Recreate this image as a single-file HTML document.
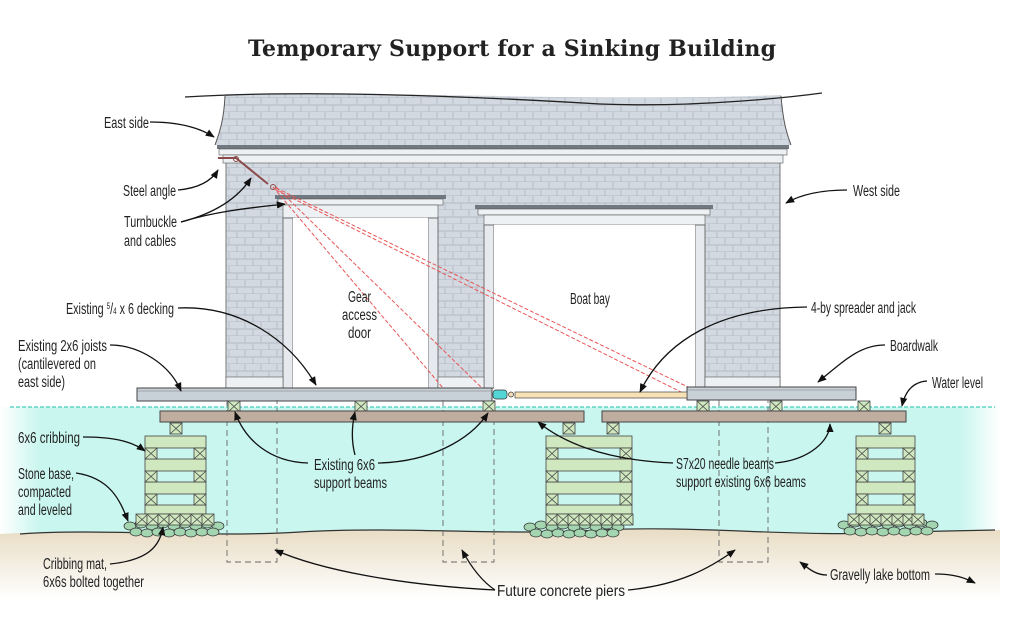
<!DOCTYPE html>
<html><head><meta charset="utf-8"><style>
html,body{margin:0;padding:0;background:#fff;}
svg{display:block;}
text{font-family:"Liberation Sans",sans-serif;fill:#222;}
</style></head><body>
<svg width="1024" height="629" viewBox="0 0 1024 629" xmlns="http://www.w3.org/2000/svg">
<defs>
<pattern id="sh" width="16" height="14" patternUnits="userSpaceOnUse">
<rect width="16" height="14" fill="#d3d9e1"/>
<path d="M0 7H16M0 14H16M5 0V7M13 7V14" stroke="#a9b2bd" stroke-width="0.7" fill="none"/>
</pattern>
<linearGradient id="gnd" x1="0" y1="0" x2="0" y2="1">
<stop offset="0" stop-color="#e8dcc4"/><stop offset="0.7" stop-color="#fff"/><stop offset="1" stop-color="#fff"/>
</linearGradient>
<linearGradient id="wl" x1="0" y1="0" x2="1" y2="0">
<stop offset="0" stop-color="#fff"/><stop offset="0.04" stop-color="#c9f6ee"/><stop offset="0.96" stop-color="#c9f6ee"/><stop offset="1" stop-color="#fff"/>
</linearGradient>
<marker id="ar" viewBox="0 0 10 10" refX="9" refY="5" markerWidth="7" markerHeight="7" orient="auto"><path d="M0 1L10 5L0 9Z" fill="#111"/></marker>
<g id="x"><rect width="12" height="11" fill="#cfe8c0" stroke="#444" stroke-width="0.8"/><path d="M0 0L12 11M12 0L0 11" stroke="#444" stroke-width="0.8"/></g>
<g id="st" fill="#a3d6b0" stroke="#333" stroke-width="0.7">
<ellipse cx="0" cy="8" rx="6" ry="4"/><ellipse cx="11" cy="6" rx="6" ry="4"/><ellipse cx="22" cy="8" rx="6" ry="4"/><ellipse cx="33" cy="6" rx="6" ry="4"/><ellipse cx="44" cy="8" rx="6" ry="4"/><ellipse cx="55" cy="6" rx="6" ry="4"/><ellipse cx="66" cy="8" rx="6" ry="4"/><ellipse cx="77" cy="6" rx="6" ry="4"/><ellipse cx="88" cy="8" rx="6" ry="4"/>
<ellipse cx="6" cy="14" rx="6" ry="4"/><ellipse cx="17" cy="15" rx="6" ry="4"/><ellipse cx="28" cy="14" rx="6" ry="4"/><ellipse cx="39" cy="15" rx="6" ry="4"/><ellipse cx="50" cy="14" rx="6" ry="4"/><ellipse cx="61" cy="15" rx="6" ry="4"/><ellipse cx="72" cy="14" rx="6" ry="4"/><ellipse cx="83" cy="14" rx="6" ry="4"/>
</g>
</defs>

<text x="512" y="56" text-anchor="middle" font-size="22" font-weight="bold" textLength="528" style="font-family:'DejaVu Serif',serif">Temporary Support for a Sinking Building</text>

<rect x="0" y="407" width="1000" height="140" fill="url(#wl)"/>
<path d="M0 534 C100 528 200 538 300 532 C400 526 500 536 600 530 C700 525 800 538 900 532 L1000 530 L1000 629 L0 629Z" fill="url(#gnd)"/>
<path d="M20 534 C100 528 200 538 300 532 C400 526 500 536 600 530 C700 525 800 538 900 532 L995 530" fill="none" stroke="#333" stroke-width="1.2"/>
<line x1="10" y1="407" x2="995" y2="407" stroke="#5fd5c5" stroke-width="1.5" stroke-dasharray="4 2"/>

<path d="M225 94 C450 92 600 102 781 95 L781 95 C783 120 786 132 791 145 L215 145 C220 132 224 118 225 94Z" fill="url(#sh)"/>
<path d="M185 97 C300 90 450 95 600 104 C700 108 800 96 822 93" fill="none" stroke="#222" stroke-width="1.3"/>
<path d="M225 96 C224 118 220 132 215 145 M781 96 C783 120 786 132 791 145" fill="none" stroke="#555"/>
<rect x="226" y="160" width="554" height="228" fill="url(#sh)"/>
<line x1="226" y1="160" x2="226" y2="388" stroke="#777"/>
<line x1="780" y1="160" x2="780" y2="388" stroke="#777"/>
<rect x="217" y="145" width="572" height="4" fill="#707880"/>
<rect x="219" y="149" width="568" height="6" fill="#eef1f4" stroke="#555" stroke-width="0.6"/>
<rect x="223" y="155" width="560" height="8" fill="#eef1f4" stroke="#555" stroke-width="0.6"/>
<rect x="275" y="195" width="171" height="4" fill="#707880"/>
<rect x="278" y="199" width="165" height="6" fill="#eef1f4" stroke="#555" stroke-width="0.6"/>
<rect x="283" y="205" width="155" height="13" fill="#eef1f4" stroke="#555" stroke-width="0.6"/>
<rect x="283" y="218" width="10" height="170" fill="#e6eaee" stroke="#555" stroke-width="0.8"/>
<rect x="428" y="218" width="10" height="170" fill="#e6eaee" stroke="#555" stroke-width="0.8"/>
<rect x="293" y="218" width="135" height="170" fill="#fff"/>
<rect x="475" y="205" width="238" height="4" fill="#707880"/>
<rect x="478" y="209" width="232" height="6" fill="#eef1f4" stroke="#555" stroke-width="0.6"/>
<rect x="484" y="215" width="221" height="10" fill="#eef1f4" stroke="#555" stroke-width="0.6"/>
<rect x="484" y="225" width="10" height="163" fill="#e6eaee" stroke="#555" stroke-width="0.8"/>
<rect x="695" y="225" width="10" height="163" fill="#e6eaee" stroke="#555" stroke-width="0.8"/>
<rect x="494" y="225" width="201" height="163" fill="#fff"/>
<rect x="226" y="377" width="57" height="11" fill="#eef1f4" stroke="#555" stroke-width="0.6"/>
<rect x="438" y="377" width="46" height="11" fill="#eef1f4" stroke="#555" stroke-width="0.6"/>
<rect x="705" y="377" width="75" height="11" fill="#eef1f4" stroke="#555" stroke-width="0.6"/>

<path d="M218 158 H236 L268 184" stroke="#8a4a4a" stroke-width="2" fill="none"/>
<circle cx="236" cy="159" r="2.5" fill="none" stroke="#8a4a4a"/>
<circle cx="273" cy="187" r="2.5" fill="none" stroke="#8a4a4a"/>
<g stroke="#e85555" stroke-width="1" stroke-dasharray="4 2" fill="none">
<line x1="273" y1="187" x2="443" y2="388"/><line x1="276" y1="187" x2="482" y2="388"/>
<line x1="276" y1="188" x2="690" y2="388"/><line x1="276" y1="190" x2="697" y2="400"/>
</g>

<rect x="137" y="388" width="355" height="13" fill="#c8d0d8" stroke="#444"/>
<line x1="137" y1="391" x2="492" y2="391" stroke="#777" stroke-width="0.6"/>
<rect x="687" y="387" width="169" height="13" fill="#c8d0d8" stroke="#444"/>
<line x1="687" y1="390" x2="856" y2="390" stroke="#777" stroke-width="0.6"/>
<rect x="493" y="390" width="14" height="9" rx="3" fill="#55d6d6" stroke="#333" stroke-width="0.7"/>
<circle cx="511" cy="394.5" r="2.5" fill="#f3e1b5" stroke="#333" stroke-width="0.7"/>
<rect x="515" y="392" width="172" height="6" fill="#f7e2b6" stroke="#444" stroke-width="0.7"/>

<g stroke="#666" stroke-dasharray="6 4" fill="none" stroke-width="0.9">
<path d="M227 400V562H277V400"/><path d="M443 400V562H494V400"/><path d="M719 400V562H768V400"/>
</g>

<use href="#x" x="228" y="401"/><use href="#x" x="355" y="401"/><use href="#x" x="483" y="401"/>
<use href="#x" x="697" y="401"/><use href="#x" x="770" y="401"/><use href="#x" x="858" y="401"/>
<rect x="160" y="411" width="424" height="11" fill="#bfaea0" stroke="#444"/>
<rect x="602" y="411" width="304" height="11" fill="#bfaea0" stroke="#444"/>

<use href="#st" x="130" y="518"/>
<use href="#st" x="530" y="519"/>
<use href="#st" x="844" y="517"/>

<g stroke="#444" stroke-width="0.8" fill="#cfe8c0">
<rect x="145" y="436" width="61" height="12"/><rect x="145" y="459" width="61" height="12"/><rect x="145" y="482" width="61" height="12"/><rect x="145" y="505" width="61" height="9"/>
<rect x="546" y="436" width="86" height="12"/><rect x="546" y="459" width="86" height="12"/><rect x="546" y="482" width="86" height="12"/><rect x="546" y="505" width="86" height="9"/>
<rect x="856" y="436" width="59" height="12"/><rect x="856" y="459" width="59" height="12"/><rect x="856" y="482" width="59" height="12"/><rect x="856" y="505" width="59" height="9"/>
</g>
<use href="#x" x="170" y="423"/>
<use href="#x" x="145" y="448"/><use href="#x" x="194" y="448"/><use href="#x" x="145" y="471"/><use href="#x" x="194" y="471"/><use href="#x" x="145" y="494"/><use href="#x" x="194" y="494"/>
<use href="#x" x="563" y="423"/><use href="#x" x="607" y="423"/>
<use href="#x" x="546" y="448"/><use href="#x" x="620" y="448"/><use href="#x" x="546" y="471"/><use href="#x" x="620" y="471"/><use href="#x" x="546" y="494"/><use href="#x" x="620" y="494"/>
<use href="#x" x="879" y="423"/>
<use href="#x" x="856" y="448"/><use href="#x" x="903" y="448"/><use href="#x" x="856" y="471"/><use href="#x" x="903" y="471"/><use href="#x" x="856" y="494"/><use href="#x" x="903" y="494"/>
<g>
<use href="#x" x="136" y="514"/><use href="#x" x="147" y="514"/><use href="#x" x="158" y="514"/><use href="#x" x="169" y="514"/><use href="#x" x="180" y="514"/><use href="#x" x="191" y="514"/><use href="#x" x="202" y="514"/>
<use href="#x" x="546" y="514"/><use href="#x" x="557" y="514"/><use href="#x" x="568" y="514"/><use href="#x" x="579" y="514"/><use href="#x" x="590" y="514"/><use href="#x" x="601" y="514"/><use href="#x" x="612" y="514"/><use href="#x" x="621" y="514"/>
<use href="#x" x="848" y="514"/><use href="#x" x="859" y="514"/><use href="#x" x="870" y="514"/><use href="#x" x="881" y="514"/><use href="#x" x="892" y="514"/><use href="#x" x="903" y="514"/><use href="#x" x="912" y="514"/>
</g>

<g fill="none" stroke="#111" stroke-width="1.3" marker-end="url(#ar)">
<path d="M150 122 C180 122 200 128 214 137"/>
<path d="M178 190 C200 188 212 180 218 170"/>
<path d="M181 222 C220 212 240 195 251 178"/>
<path d="M181 222 C220 210 260 207 285 204"/>
<path d="M178 308 C240 305 290 340 316 385"/>
<path d="M110 345 C140 345 170 365 181 391"/>
<path d="M847 190 C820 190 800 195 786 203"/>
<path d="M807 307 C720 308 665 340 640 392"/>
<path d="M885 345 C860 345 845 360 818 382"/>
<path d="M927 381 C912 382 905 392 902 406"/>
<path d="M83 437 C110 437 130 440 145 451"/>
<path d="M76 473 C110 478 120 500 128 521"/>
<path d="M308 463 C270 462 245 440 235 412"/>
<path d="M355 455 C351 440 352 425 355 412"/>
<path d="M378 463 C430 462 470 440 488 413"/>
<path d="M673 463 C600 460 560 440 538 422"/>
<path d="M775 463 C810 460 830 440 830 424"/>
<path d="M110 564 C150 560 160 545 163 527"/>
<path d="M495 590 C400 585 320 570 275 550"/>
<path d="M495 590 C480 580 470 565 462 550"/>
<path d="M628 590 C680 585 710 568 735 550"/>
<path d="M827 575 C815 575 808 568 800 562"/>
<path d="M935 574 C955 574 965 578 975 583"/>
</g>

<g font-size="15.5">
<text x="104" y="128" textLength="45" lengthAdjust="spacingAndGlyphs">East side</text>
<text x="123" y="196" textLength="53" lengthAdjust="spacingAndGlyphs">Steel angle</text>
<text x="124" y="227" textLength="53" lengthAdjust="spacingAndGlyphs">Turnbuckle</text>
<text x="124" y="246" textLength="52" lengthAdjust="spacingAndGlyphs">and cables</text>
<text x="348" y="302" textLength="23" lengthAdjust="spacingAndGlyphs">Gear</text>
<text x="342" y="320" textLength="35" lengthAdjust="spacingAndGlyphs">access</text>
<text x="348" y="338" textLength="23" lengthAdjust="spacingAndGlyphs">door</text>
<text x="570" y="304" textLength="40" lengthAdjust="spacingAndGlyphs">Boat bay</text>
<text x="66" y="314" textLength="108" lengthAdjust="spacingAndGlyphs">Existing <tspan font-size="9" dy="-5">5</tspan><tspan dy="5">/</tspan><tspan font-size="9">4</tspan> x 6 decking</text>
<text x="18" y="351" textLength="89" lengthAdjust="spacingAndGlyphs">Existing 2x6 joists</text>
<text x="18" y="369" textLength="78" lengthAdjust="spacingAndGlyphs">(cantilevered on</text>
<text x="18" y="387" textLength="47" lengthAdjust="spacingAndGlyphs">east side)</text>
<text x="853" y="196" textLength="47" lengthAdjust="spacingAndGlyphs">West side</text>
<text x="811" y="313" textLength="105" lengthAdjust="spacingAndGlyphs">4-by spreader and jack</text>
<text x="890" y="351" textLength="48" lengthAdjust="spacingAndGlyphs">Boardwalk</text>
<text x="932" y="388" textLength="51" lengthAdjust="spacingAndGlyphs">Water level</text>
<text x="18" y="443" textLength="62" lengthAdjust="spacingAndGlyphs">6x6 cribbing</text>
<text x="18" y="479" textLength="56" lengthAdjust="spacingAndGlyphs">Stone base,</text>
<text x="18" y="497" textLength="53" lengthAdjust="spacingAndGlyphs">compacted</text>
<text x="18" y="515" textLength="54" lengthAdjust="spacingAndGlyphs">and leveled</text>
<text x="314" y="470" textLength="61" lengthAdjust="spacingAndGlyphs">Existing 6x6</text>
<text x="314" y="488" textLength="73" lengthAdjust="spacingAndGlyphs">support beams</text>
<text x="676" y="469" textLength="98" lengthAdjust="spacingAndGlyphs">S7x20 needle beams</text>
<text x="676" y="487" textLength="130" lengthAdjust="spacingAndGlyphs">support existing 6x6 beams</text>
<text x="43" y="569" textLength="64" lengthAdjust="spacingAndGlyphs">Cribbing mat,</text>
<text x="43" y="587" textLength="101" lengthAdjust="spacingAndGlyphs">6x6s bolted together</text>
<text x="497" y="596" textLength="128" lengthAdjust="spacingAndGlyphs">Future concrete piers</text>
<text x="830" y="580" textLength="100" lengthAdjust="spacingAndGlyphs">Gravelly lake bottom</text>
</g>
</svg>
</body></html>
